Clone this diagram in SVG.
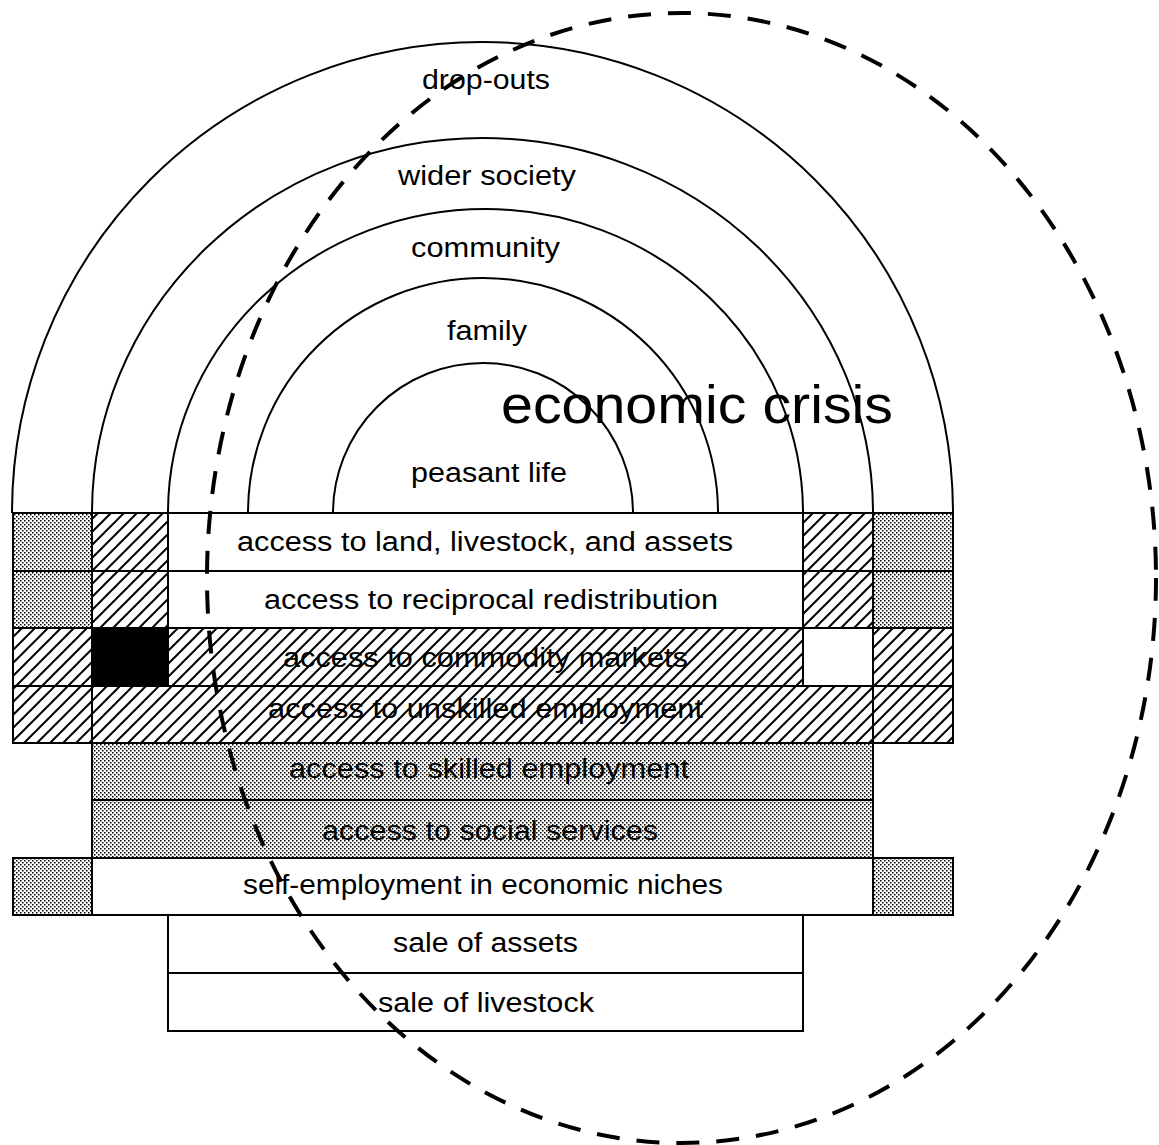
<svg xmlns="http://www.w3.org/2000/svg" width="1159" height="1145" viewBox="0 0 1159 1145">
<style>
.ln{fill:none;stroke:#000;stroke-width:2}
.cell{stroke:#000;stroke-width:2}
.w{fill:#fff}
.h{fill:url(#hatch)}
.d{fill:url(#dots)}
.k{fill:#000}
.t{font-family:"Liberation Sans",Arial,Helvetica,sans-serif;font-size:27px;fill:#000}
.big{font-family:"Liberation Sans",Arial,Helvetica,sans-serif;font-size:53px;fill:#000}
.dash{fill:none;stroke:#000;stroke-width:4;stroke-dasharray:23 17}
</style>
<defs>
<pattern id="hatch" patternUnits="userSpaceOnUse" width="13" height="13">
<rect width="13" height="13" fill="#fff"/>
<path d="M-2,2 L2,-2 M0,13 L13,0 M11,15 L15,11" stroke="#000" stroke-width="2"/>
</pattern>
<pattern id="dots" patternUnits="userSpaceOnUse" width="4" height="4">
<rect width="4" height="4" fill="#fff"/>
<rect x="0" y="0" width="1.5" height="1.5" fill="#000"/>
<rect x="2" y="2" width="1.5" height="1.5" fill="#000"/>
</pattern>
</defs>
<rect width="1159" height="1145" fill="#fff"/>

<g id="arcs">
<g id="drop-outs"><path class="ln" d="M12,513 A470.5,471 0 0 1 953,513"/><text class="t" x="422" y="89" textLength="128" lengthAdjust="spacingAndGlyphs">drop-outs</text></g>
<g id="wider-society"><path class="ln" d="M92,513 A390.5,375 0 0 1 873,513"/><text class="t" x="398" y="185" textLength="178" lengthAdjust="spacingAndGlyphs">wider society</text></g>
<g id="community"><path class="ln" d="M168,513 A317.5,304 0 0 1 803,513"/><text class="t" x="411" y="257" textLength="149" lengthAdjust="spacingAndGlyphs">community</text></g>
<g id="family"><path class="ln" d="M248,513 A235,235 0 0 1 718,513"/><text class="t" x="447" y="340" textLength="80" lengthAdjust="spacingAndGlyphs">family</text></g>
<g id="peasant-life"><path class="ln" d="M333,513 A150,150 0 0 1 633,513"/><text class="t" x="411" y="482" textLength="156" lengthAdjust="spacingAndGlyphs">peasant life</text></g>
</g>

<g id="economic-crisis"><text class="big" x="501" y="423" textLength="392" lengthAdjust="spacingAndGlyphs">economic crisis</text></g>

<g id="row-land">
<rect class="cell d" x="13" y="513" width="79" height="58"/>
<rect class="cell h" x="92" y="513" width="76" height="58"/>
<rect class="cell w" x="168" y="513" width="635" height="58"/>
<rect class="cell h" x="803" y="513" width="70" height="58"/>
<rect class="cell d" x="873" y="513" width="80" height="58"/>
<text class="t" x="237" y="551" textLength="496" lengthAdjust="spacingAndGlyphs">access to land, livestock, and assets</text>
</g>
<g id="row-reciprocal">
<rect class="cell d" x="13" y="571" width="79" height="57"/>
<rect class="cell h" x="92" y="571" width="76" height="57"/>
<rect class="cell w" x="168" y="571" width="635" height="57"/>
<rect class="cell h" x="803" y="571" width="70" height="57"/>
<rect class="cell d" x="873" y="571" width="80" height="57"/>
<text class="t" x="264" y="609" textLength="454" lengthAdjust="spacingAndGlyphs">access to reciprocal redistribution</text>
</g>
<g id="row-commodity">
<rect class="cell h" x="13" y="628" width="79" height="58"/>
<rect class="cell k" x="92" y="628" width="76" height="58"/>
<rect class="cell h" x="168" y="628" width="635" height="58"/>
<rect class="cell w" x="803" y="628" width="70" height="58"/>
<rect class="cell h" x="873" y="628" width="80" height="58"/>
<text class="t" x="283" y="667" textLength="405" lengthAdjust="spacingAndGlyphs">access to commodity markets</text>
</g>
<g id="row-unskilled">
<rect class="cell h" x="13" y="686" width="79" height="57"/>
<rect class="cell h" x="92" y="686" width="781" height="57"/>
<rect class="cell h" x="873" y="686" width="80" height="57"/>
<text class="t" x="268" y="718" textLength="435" lengthAdjust="spacingAndGlyphs">access to unskilled employment</text>
</g>
<g id="row-skilled">
<rect class="cell d" x="92" y="743" width="781" height="57"/>
<text class="t" x="289" y="778" textLength="400" lengthAdjust="spacingAndGlyphs">access to skilled employment</text>
</g>
<g id="row-social">
<rect class="cell d" x="92" y="800" width="781" height="58"/>
<text class="t" x="322" y="840" textLength="336" lengthAdjust="spacingAndGlyphs">access to social services</text>
</g>
<g id="row-self">
<rect class="cell d" x="13" y="858" width="79" height="57"/>
<rect class="cell w" x="92" y="858" width="781" height="57"/>
<rect class="cell d" x="873" y="858" width="80" height="57"/>
<text class="t" x="243" y="894" textLength="480" lengthAdjust="spacingAndGlyphs">self-employment in economic niches</text>
</g>
<g id="row-assets">
<rect class="cell w" x="168" y="915" width="635" height="58"/>
<text class="t" x="393" y="952" textLength="185" lengthAdjust="spacingAndGlyphs">sale of assets</text>
</g>
<g id="row-livestock">
<rect class="cell w" x="168" y="973" width="635" height="58"/>
<text class="t" x="378" y="1012" textLength="216" lengthAdjust="spacingAndGlyphs">sale of livestock</text>
</g>

<g id="connectors">
<ellipse class="dash" cx="681.5" cy="578" rx="474.5" ry="565"/>
</g>
</svg>
